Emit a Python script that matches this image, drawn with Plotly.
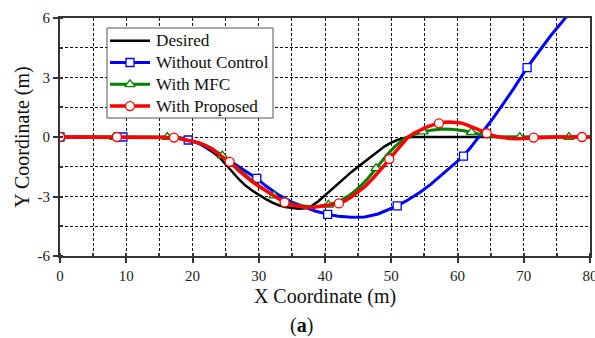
import plotly.graph_objects as go

# ---- desired path ----
desired_x = [0, 17, 18, 19, 20, 21, 22, 23, 24, 25, 26, 27, 28, 29, 30, 31, 32, 33, 34, 35,
             36, 37, 38, 39, 40, 41, 42, 43, 44, 45, 46, 47, 48, 49, 50, 51, 52, 53, 80]
desired_y = [0, 0, -0.02, -0.08, -0.18, -0.32, -0.52, -0.75, -1.0, -1.35, -1.75, -2.13, -2.45,
             -2.7, -2.92, -3.12, -3.3, -3.44, -3.53, -3.59, -3.62, -3.59, -3.47, -3.24, -2.94,
             -2.63, -2.32, -2.03, -1.76, -1.5, -1.24, -0.97, -0.71, -0.47, -0.28, -0.14, -0.05, 0, 0]

# ---- without control ----
free_x = [0, 9.5, 15, 17, 19.35, 21, 23, 25, 27, 29.7, 31, 33, 35, 37, 38.5, 40.4, 42, 44, 46,
          48, 50, 50.9, 52.5, 54.3, 56, 57.5, 59.3, 60.9, 62, 63.3, 65, 67, 68.5, 70.5, 72, 74,
          76.4, 78]
free_y = [0, 0, 0, -0.03, -0.15, -0.33, -0.65, -1.05, -1.5, -2.09, -2.45, -2.92, -3.28, -3.56,
          -3.73, -3.9, -3.99, -4.04, -4.03, -3.88, -3.6, -3.47, -3.18, -2.8, -2.38, -1.95, -1.43,
          -0.96, -0.52, 0.03, 0.78, 1.72, 2.45, 3.5, 4.2, 5.08, 6.05, 6.75]
free_marks = [0, 9.5, 19.35, 29.7, 40.4, 50.9, 60.9, 70.5]

# ---- with MFC ----
mfc_x = [0, 8.2, 16.2, 17.5, 19, 20, 21, 22, 23, 24.5, 26, 27, 28, 29, 30, 31, 32.3, 33.5, 35,
         36, 37, 38, 39, 40.5, 41.5, 42.5, 43.5, 44.5, 45.5, 46.5, 47.7, 48.5, 49.5, 50.5, 51.3,
         52, 53, 54, 54.8, 56, 57, 57.8, 59, 60, 61, 62.1, 63, 64, 65, 66, 69.4, 76.8, 80]
mfc_y = [0, 0, 0, -0.05, -0.13, -0.21, -0.3, -0.42, -0.6, -0.94, -1.35, -1.65, -1.95, -2.2,
         -2.45, -2.68, -2.96, -3.17, -3.37, -3.45, -3.5, -3.52, -3.5, -3.42, -3.33, -3.18, -2.98,
         -2.73, -2.43, -2.08, -1.58, -1.25, -0.85, -0.5, -0.26, -0.08, 0.08, 0.2, 0.27, 0.34,
         0.38, 0.4, 0.39, 0.36, 0.31, 0.24, 0.16, 0.08, 0.03, 0.01, 0, 0, 0]
mfc_marks = [0, 8.2, 16.2, 24.5, 32.3, 40.5, 47.7, 54.8, 62.1, 69.4, 76.8]

# ---- with proposed controller ----
prop_x = [0, 8.6, 16, 17.2, 18, 19, 20, 21, 22, 23, 24, 25, 25.6, 26, 27, 28, 29, 30, 31, 32,
          33, 33.9, 35, 36, 37, 38, 39, 40, 41, 42.1, 43, 44, 45, 46, 47, 48, 48.8, 49.7, 50.5,
          51.3, 52, 52.5, 53.5, 54.5, 55.5, 56.3, 57.2, 58, 58.8, 59.6, 60.5, 61.3, 62, 62.8,
          63.6, 64.4, 65.2, 66, 67, 68, 69, 70, 71.5, 73, 75, 78.8, 80]
prop_y = [0, 0, 0, -0.03, -0.07, -0.14, -0.22, -0.3, -0.44, -0.62, -0.88, -1.1, -1.25, -1.37,
          -1.7, -2.0, -2.25, -2.48, -2.7, -2.92, -3.15, -3.3, -3.43, -3.5, -3.54, -3.55, -3.52,
          -3.48, -3.42, -3.35, -3.22, -3.02, -2.78, -2.5, -2.17, -1.82, -1.5, -1.11, -0.78,
          -0.47, -0.2, -0.02, 0.2, 0.37, 0.52, 0.61, 0.69, 0.74, 0.76, 0.75, 0.71, 0.62, 0.52,
          0.4, 0.29, 0.19, 0.09, 0.01, -0.05, -0.08, -0.09, -0.07, -0.03, -0.01, 0, 0, 0]
prop_marks = [0, 8.6, 17.2, 25.6, 33.9, 42.1, 49.7, 57.2, 64.4, 71.5, 78.8]

x_ticks = [0, 10, 20, 30, 40, 50, 60, 70, 80]
y_ticks = [-6, -3, 0, 3, 6]
y_tick_text = ["-6", "-3", "0", "3", "6"]

FONT = "Liberation Serif"

series = [
    ("Desired", desired_x, desired_y, None, "#000000", 2.5, None, 0),
    ("Without Control", free_x, free_y, free_marks, "#0000FF", 3, "square", 8),
    ("With MFC", mfc_x, mfc_y, mfc_marks, "#008000", 3, "triangle-up", 9),
    ("With Proposed", prop_x, prop_y, prop_marks, "#FF0000", 3.5, "circle", 9),
]

fig = go.Figure()
for name, xs, ys, marks, color, lw, sym, ms in series:
    fig.add_trace(go.Scatter(x=xs, y=ys, mode="lines", showlegend=False,
                             line=dict(color=color, width=lw), hoverinfo="skip"))
    if marks:
        lookup = dict(zip(xs, ys))
        fig.add_trace(go.Scatter(
            x=marks, y=[lookup[m] for m in marks], mode="markers", showlegend=False,
            marker=dict(symbol=sym, size=ms, color="white",
                        line=dict(color=color, width=1.3))))

# ---- legend box, drawn on an overlay axis measured in pixels ----
LEG_LEFT, LEG_RIGHT, LEG_TOP, LEG_BOTTOM = 107, 273, 28, 118
LEG_ROW0, LEG_ROW_STEP = 40.7, 21.8
fig.add_trace(go.Scatter(
    x=[LEG_LEFT, LEG_RIGHT, LEG_RIGHT, LEG_LEFT, LEG_LEFT],
    y=[LEG_TOP, LEG_TOP, LEG_BOTTOM, LEG_BOTTOM, LEG_TOP],
    xaxis="x2", yaxis="y2", mode="lines", fill="toself", fillcolor="white",
    line=dict(color="#555555", width=1), showlegend=False, hoverinfo="skip",
    cliponaxis=False))
for i, (name, xs, ys, marks, color, lw, sym, ms) in enumerate(series):
    row = LEG_ROW0 + i * LEG_ROW_STEP
    fig.add_trace(go.Scatter(x=[110, 150], y=[row, row], xaxis="x2", yaxis="y2",
                             mode="lines", showlegend=False, cliponaxis=False,
                             line=dict(color=color, width=lw), hoverinfo="skip"))
    if marks:
        fig.add_trace(go.Scatter(x=[130], y=[row], xaxis="x2", yaxis="y2", mode="markers",
                                 showlegend=False, cliponaxis=False, hoverinfo="skip",
                                 marker=dict(symbol=sym, size=ms, color="white",
                                             line=dict(color=color, width=1.3))))
    fig.add_annotation(text=name, xref="x2", yref="y2", x=154, y=row, xanchor="left",
                       yanchor="middle", showarrow=False,
                       font=dict(family=FONT, size=17.2, color="#111111"))

grid = dict(showgrid=True, gridcolor="#111111", gridwidth=1, griddash="3px,2px")

fig.update_layout(
    xaxis=dict(
        range=[0, 80], tickvals=x_ticks, **grid,
        minor=dict(dtick=5, tick0=0, showgrid=True, gridcolor="#111111", gridwidth=1,
                   griddash="3px,2px", ticks="inside", ticklen=3, tickcolor="#333333"),
        showline=True, linecolor="#333333", linewidth=2, mirror=True,
        ticks="outside", ticklen=5, tickwidth=1.5, tickcolor="#333333", zeroline=False,
        tickfont=dict(family=FONT, size=15, color="#222222"),
        ticklabeloverflow="allow", automargin=False,
        title=dict(text="X Coordinate (m)", font=dict(family=FONT, size=20, color="#111111"),
                   standoff=6),
    ),
    yaxis=dict(
        range=[-6, 6], tickvals=y_ticks, ticktext=y_tick_text, **grid,
        minor=dict(dtick=1.5, tick0=0, showgrid=True, gridcolor="#111111", gridwidth=1,
                   griddash="3px,2px", ticks="inside", ticklen=3, tickcolor="#333333"),
        showline=True, linecolor="#333333", linewidth=2, mirror=True,
        ticks="outside", ticklen=5, tickwidth=1.5, tickcolor="#333333", zeroline=False,
        tickfont=dict(family=FONT, size=15, color="#222222"), automargin=False,
        title=dict(text="Y Coordinate (m)", font=dict(family=FONT, size=20, color="#111111"),
                   standoff=3),
    ),
    xaxis2=dict(overlaying="x", range=[60, 590], visible=False, fixedrange=True),
    yaxis2=dict(overlaying="y", range=[256, 18], visible=False, fixedrange=True),
    width=595, height=338,
    margin=dict(l=60, r=5, t=18, b=82),
    paper_bgcolor="white", plot_bgcolor="white",
    font=dict(family=FONT),
    showlegend=False,
)

fig.add_annotation(text="(<b>a</b>)", x=0.455, y=-0.29, xref="paper", yref="paper",
                   yanchor="middle", showarrow=False,
                   font=dict(family=FONT, size=20, color="#111111"))

fig.write_html("out.html")
